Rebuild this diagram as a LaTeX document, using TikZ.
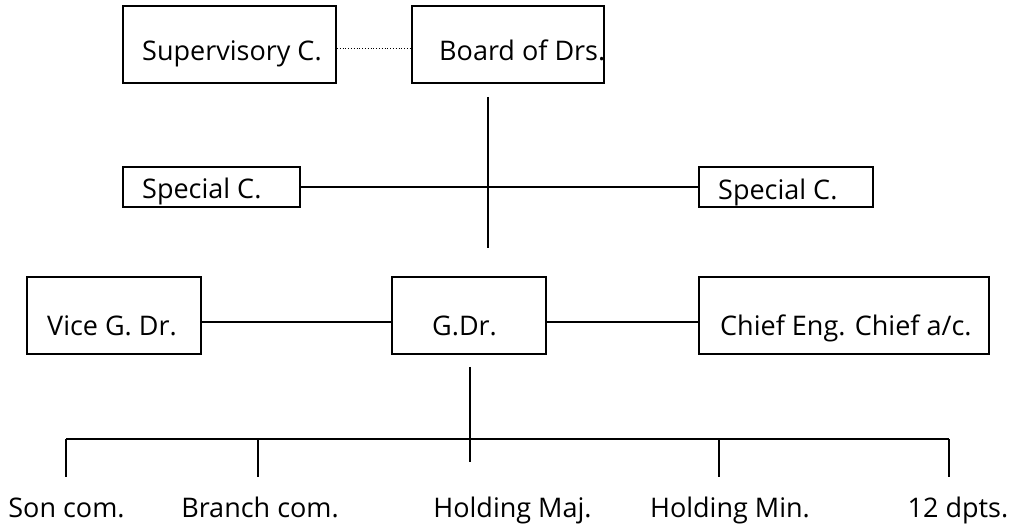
\documentclass[tikz,border=0pt]{standalone}
\usepackage{fontspec}
\setmainfont{Open Sans}
\begin{document}
\begin{tikzpicture}[x=1pt, y=-1pt,
    box/.style={draw, line width=1.8pt, inner sep=0pt},
    lbl/.style={inner sep=0pt, anchor=base west, font=\fontsize{27}{32}\selectfont},
    sub/.style={inner sep=0pt, anchor=base, font=\fontsize{27}{32}\selectfont},
    link/.style={line width=1.8pt}]
    \useasboundingbox (0,0) rectangle (1015,526);
    % 枠
    \node[box, minimum width=213pt, minimum height=77pt] (sup) at (229.5, 44.5) {};
    \node[box, minimum width=192pt, minimum height=77pt] (board) at (508, 44.5) {};
    \node[box, minimum width=177pt, minimum height=40pt] (spL) at (211.5, 187) {};
    \node[box, minimum width=174pt, minimum height=40pt] (spR) at (786, 187) {};
    \node[box, minimum width=174pt, minimum height=77pt] (vice) at (114, 315.5) {};
    \node[box, minimum width=154pt, minimum height=77pt] (gdr) at (469, 315.5) {};
    \node[box, minimum width=290pt, minimum height=77pt] (chief) at (844, 315.5) {};

    % 文字
    \node[lbl] (supT) at (142, 61) {Supervisory C.};
    \node[lbl] (boardT) at (439, 61) {Board of Drs.};
    \node[lbl] (spLT) at (142, 199) {Special C.};
    \node[lbl] (spRT) at (718, 200) {Special C.};
    \node[lbl] (viceT) at (47, 336) {Vice G. Dr.};
    \node[lbl] (gdrT) at (432, 336) {G.Dr.};
    \node[lbl] (chiefT) at (720, 336) {Chief Eng. Chief a/c.};

    \node[sub] (son) at (66.5, 517) {Son com.};
    \node[sub] (branch) at (260, 517) {Branch com.};
    \node[sub] (hmaj) at (512.5, 517) {Holding Maj.};
    \node[sub] (hmin) at (730, 517) {Holding Min.};
    \node[sub] (dpts) at (958, 517) {12 dpts.};

    % 座標
    \coordinate (bdTop) at (488, 97);
    \coordinate (bdBot) at (488, 248);
    \coordinate (gdTop) at (470, 367);
    \coordinate (gdBot) at (470, 462);
    \coordinate (busL) at (66, 439);
    \coordinate (busR) at (949, 439);
    \coordinate (bus2) at (258, 439);
    \coordinate (bus4) at (719, 439);
    \coordinate (sonE) at (66, 477);
    \coordinate (branchE) at (258, 477);
    \coordinate (hminE) at (719, 477);
    \coordinate (dptsE) at (949, 477);

    % エッジ
    \draw[dotted, line width=0.8pt] ([yshift=-3.5pt]sup.east) -- ([yshift=-3.5pt]board.west);
    \draw[link] (bdTop) -- (bdBot);
    \draw[link] (spL.east) -- (spR.west);
    \draw[link] ([yshift=-6.5pt]vice.east) -- ([yshift=-6.5pt]gdr.west);
    \draw[link] ([yshift=-6.5pt]gdr.east) -- ([yshift=-6.5pt]chief.west);
    \draw[link] (gdTop) -- (gdBot);
    \draw[link] (busL) -- (busR);
    \draw[link] (busL) -- (sonE);
    \draw[link] (bus2) -- (branchE);
    \draw[link] (bus4) -- (hminE);
    \draw[link] (busR) -- (dptsE);
\end{tikzpicture}
\end{document}
